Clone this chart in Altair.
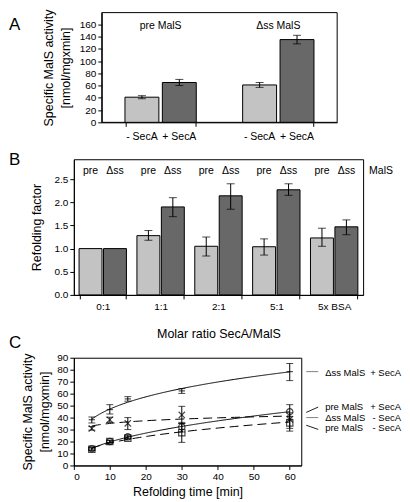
import altair as alt
import pandas as pd

FONT = "Liberation Sans"
LIGHT = "#c3c3c3"
DARK = "#686868"

# ---------------- Panel A data ----------------
a_groups = ["pre MalS", "pre MalS", "Δss MalS", "Δss MalS"]
a_secA = ["- SecA", "+ SecA", "- SecA", "+ SecA"]
a_values = [41, 65, 61, 135]
a_err_lo = [38.5, 60, 57, 128]
a_err_hi = [43.5, 70, 65, 142]
a_group_order = ["pre MalS", "Δss MalS"]
a_secA_order = ["- SecA", "+ SecA"]

# ---------------- Panel B data ----------------
b_ratios = ["0:1", "1:1", "2:1", "5:1", "5x BSA"]
b_forms = ["pre", "Δss"]
b_pre = [1.0, 1.28, 1.05, 1.04, 1.23]
b_pre_lo = [None, 1.18, 0.84, 0.86, 1.05]
b_pre_hi = [None, 1.39, 1.25, 1.21, 1.44]
b_dss = [1.0, 1.90, 2.14, 2.27, 1.47]
b_dss_lo = [None, 1.69, 1.85, 2.15, 1.30]
b_dss_hi = [None, 2.10, 2.40, 2.40, 1.62]

# ---------------- Panel C data ----------------
c_time = [5, 10, 15, 30, 60]
c_series = ["Δss MalS + SecA", "pre MalS + SecA", "Δss MalS - SecA", "pre MalS - SecA"]
c_dss_plus = [38.2, 46.7, 55.6, 62.3, 78.4]
c_dss_plus_lo = [35.5, 43.0, 53.7, 60.2, 70.9]
c_dss_plus_hi = [40.5, 50.8, 57.5, 64.2, 85.2]
c_pre_plus = [14.0, 20.0, 23.9, 32.2, 44.9]
c_pre_plus_lo = [13.0, 19.0, 22.5, 28.0, 38.5]
c_pre_plus_hi = [15.0, 21.0, 25.5, 36.0, 50.8]
c_dss_minus = [30.9, 38.2, 35.2, 42.2, 38.5]
c_dss_minus_lo = [29.5, 36.0, 30.0, 35.0, 31.0]
c_dss_minus_hi = [32.5, 40.3, 40.0, 49.4, 44.0]
c_pre_minus = [13.5, 20.1, 22.8, 27.4, 35.5]
c_pre_minus_lo = [12.5, 19.0, 22.0, 19.3, 28.7]
c_pre_minus_hi = [14.5, 21.0, 24.0, 35.0, 41.0]

leg_left = ["Δss MalS", "pre MalS", "Δss MalS", "pre MalS"]
leg_right = ["+ SecA", "+ SecA", "- SecA", "- SecA"]
leg_label_y = [77.5, 49.0, 39.5, 31.0]
leg_line_y1 = [78.4, 44.3, 40.0, 33.6]
leg_line_y2 = [78.4, 48.8, 40.0, 30.1]
leg_line_color = ["#808080", "#202020", "#808080", "#202020"]

LETTER_X = -65
axis_common = dict(labelColor="black", titleColor="black", domainColor="black",
                   tickColor="black", labelFontSize=10, titleFontSize=12.5,
                   titleFontWeight="normal", tickSize=4, grid=False,
                   labelOverlap=False, titleLineHeight=17)


def letter(txt, y):
    return alt.Chart(pd.DataFrame({"t": [txt]})).mark_text(
        align="left", baseline="middle", fontSize=17, font=FONT, color="black"
    ).encode(x=alt.value(LETTER_X), y=alt.value(y), text="t:N")


# ================= Panel A =================
WA, HA = 264, 110
A_LEFT = 28
A_BAR_W = 34
A_OFFS = [-18.75, 18.75]
A_COLS = [LIGHT, DARK]
dfA = pd.DataFrame({"group": a_groups, "secA": a_secA, "value": a_values,
                    "lo": a_err_lo, "hi": a_err_hi})
dfAg = pd.DataFrame({"group": a_group_order})

xA = alt.X("group:N", sort=a_group_order,
           scale=alt.Scale(range=[A_LEFT, WA], paddingInner=0.4, paddingOuter=0.2),
           axis=alt.Axis(title=None, labels=False, tickBand="extent", **axis_common))
yA = alt.Y("value:Q", scale=alt.Scale(domain=[0, 179], nice=False),
           axis=alt.Axis(values=list(range(0, 161, 20)), tickCount=40,
                         title=["Specific MalS activity", "[nmol/mgxmin]"],
                         offset=-A_LEFT, titlePadding=7, **axis_common))

layersA = [alt.Chart(pd.DataFrame({"t": [0]})).mark_rect(
    fillOpacity=0, stroke="black", strokeWidth=1
).encode(x=alt.value(A_LEFT), x2=alt.value(WA), y=alt.value(0), y2=alt.value(HA))]
for s, off, col in zip(a_secA_order, A_OFFS, A_COLS):
    base = alt.Chart(dfA).transform_filter(alt.datum.secA == s)
    layersA.append(base.mark_bar(width=A_BAR_W, xOffset=off, fill=col, stroke="black",
                                 strokeWidth=1).encode(x=xA, y=yA))
    layersA.append(base.mark_rule(xOffset=off, color="black").encode(x=xA, y="lo:Q", y2="hi:Q"))
    for fld in ["lo", "hi"]:
        layersA.append(base.mark_tick(orient="horizontal", size=8, thickness=1, xOffset=off,
                                      color="black").encode(x=xA, y=f"{fld}:Q"))
    layersA.append(base.mark_text(fontSize=10.5, font=FONT, color="black", baseline="middle",
                                  xOffset=off).encode(x=xA, y=alt.value(HA + 15), text="secA:N"))
layersA.append(alt.Chart(dfAg).mark_text(fontSize=10.5, font=FONT, color="black",
                                         baseline="middle").encode(
    x=xA, y=alt.value(13), text="group:N"))
layersA.append(letter("A", 12))
# invisible spacer text that reserves room below panel A
layersA.append(alt.Chart(pd.DataFrame({"t": ["."]})).mark_text(
    fontSize=10, opacity=0, baseline="middle").encode(
    x=alt.value(A_LEFT), y=alt.value(HA + 31), text="t:N"))

panelA = alt.layer(*layersA).properties(width=WA, height=HA,
                                        view=alt.ViewBackground(stroke=None))

# ================= Panel B =================
WB, HB = 290, 136
B_BAR_W = 23
B_OFFS = [-12.25, 12.25]
B_COLS = [LIGHT, DARK]
rows = []
for i, r in enumerate(b_ratios):
    rows.append({"ratio": r, "form": "pre", "value": b_pre[i], "lo": b_pre_lo[i], "hi": b_pre_hi[i]})
    rows.append({"ratio": r, "form": "Δss", "value": b_dss[i], "lo": b_dss_lo[i], "hi": b_dss_hi[i]})
dfB = pd.DataFrame(rows)
dfBe = dfB.dropna()

xB = alt.X("ratio:N", sort=b_ratios,
           scale=alt.Scale(paddingInner=0.19, paddingOuter=0.095),
           axis=alt.Axis(title="Molar ratio SecA/MalS", labelAngle=0, tickBand="extent",
                         labelPadding=3, titlePadding=16, **axis_common))
yB = alt.Y("value:Q", scale=alt.Scale(domain=[0, 2.93], nice=False),
           axis=alt.Axis(values=[0, 0.5, 1.0, 1.5, 2.0, 2.5], format=".1f", tickCount=40,
                         title="Refolding factor", titlePadding=11, **axis_common))

layersB = []
for f, off, col in zip(b_forms, B_OFFS, B_COLS):
    base = alt.Chart(dfB).transform_filter(alt.datum.form == f)
    basee = alt.Chart(dfBe).transform_filter(alt.datum.form == f)
    layersB.append(base.mark_bar(width=B_BAR_W, xOffset=off, fill=col, stroke="black",
                                 strokeWidth=1).encode(x=xB, y=yB))
    layersB.append(basee.mark_rule(xOffset=off, color="black").encode(x=xB, y="lo:Q", y2="hi:Q"))
    for fld in ["lo", "hi"]:
        layersB.append(basee.mark_tick(orient="horizontal", size=8, thickness=1, xOffset=off,
                                       color="black").encode(x=xB, y=f"{fld}:Q"))
    layersB.append(base.mark_text(fontSize=10.5, font=FONT, color="black", baseline="middle",
                                  xOffset=off).encode(x=xB, y=alt.value(12), text="form:N"))
layersB.append(alt.Chart(pd.DataFrame({"t": ["MalS"]})).mark_text(
    fontSize=10.5, font=FONT, color="black", baseline="middle", align="left"
).encode(x=alt.value(WB + 6), y=alt.value(12), text="t:N"))
layersB.append(letter("B", 1))

panelB = alt.layer(*layersB).properties(width=WB, height=HB)

# ================= Panel C =================
WC, HC = 228, 108
c_vals = [c_dss_plus, c_pre_plus, c_dss_minus, c_pre_minus]
c_los = [c_dss_plus_lo, c_pre_plus_lo, c_dss_minus_lo, c_pre_minus_lo]
c_his = [c_dss_plus_hi, c_pre_plus_hi, c_dss_minus_hi, c_pre_minus_hi]
rows = []
for s, vals, los, his in zip(c_series, c_vals, c_los, c_his):
    for t, v, lo, hi in zip(c_time, vals, los, his):
        rows.append({"series": s, "time": t, "value": v, "lo": lo, "hi": hi})
dfC = pd.DataFrame(rows)

xC = alt.X("time:Q", scale=alt.Scale(domain=[0, 63.2], nice=False),
           axis=alt.Axis(values=[0, 10, 20, 30, 40, 50, 60], tickCount=40,
                         title="Refolding time [min]", titlePadding=4, **axis_common))
yC = alt.Y("value:Q", scale=alt.Scale(domain=[0, 90], nice=False),
           axis=alt.Axis(values=list(range(0, 91, 10)), tickCount=40,
                         title=["Specific MalS activity", "[nmol/mgxmin]"],
                         titlePadding=5, **axis_common))
dashC = alt.StrokeDash("series:N", scale=alt.Scale(domain=c_series,
                       range=[[1, 0], [1, 0], [9, 5], [9, 5]]), legend=None)
widthC = alt.StrokeWidth("series:N", scale=alt.Scale(domain=c_series, range=[1, 1, 2.2, 2.2]),
                         legend=None)
shapeC = alt.Shape("series:N", scale=alt.Scale(domain=c_series,
                   range=["stroke", "circle", "M-1,-1L1,1M-1,1L1,-1", "square"]), legend=None)

trendC = alt.Chart(dfC).transform_regression(
    "time", "value", groupby=["series"], method="pow"
).mark_line(color="black").encode(x=xC, y=yC, strokeDash=dashC, strokeWidth=widthC)
errC = alt.Chart(dfC).mark_rule(color="black", strokeWidth=1).encode(x=xC, y="lo:Q", y2="hi:Q")
capC1 = alt.Chart(dfC).mark_tick(orient="horizontal", size=7, thickness=1, color="black").encode(
    x=xC, y="lo:Q")
capC2 = alt.Chart(dfC).mark_tick(orient="horizontal", size=7, thickness=1, color="black").encode(
    x=xC, y="hi:Q")
ptsC = alt.Chart(dfC).mark_point(filled=False, color="black", strokeWidth=1.2, size=40).encode(
    x=xC, y=yC, shape=shapeC)

dfL = pd.DataFrame({"left": leg_left, "right": leg_right, "ly": leg_label_y,
                    "y1": leg_line_y1, "y2": leg_line_y2, "c": leg_line_color})
legLines = alt.Chart(dfL).mark_rule(strokeWidth=1).encode(
    x=alt.value(WC + 5), x2=alt.value(WC + 17), y="y1:Q", y2="y2:Q",
    color=alt.Color("c:N", scale=None))
legL = alt.Chart(dfL).mark_text(align="left", baseline="middle", fontSize=9.5, font=FONT,
                                color="black").encode(
    x=alt.value(WC + 24), y="ly:Q", text="left:N")
legR = alt.Chart(dfL).mark_text(align="right", baseline="middle", fontSize=9.5, font=FONT,
                                color="black").encode(
    x=alt.value(WC + 100), y="ly:Q", text="right:N")

panelC = alt.layer(trendC, errC, capC1, capC2, ptsC, legLines, legL, legR,
                   letter("C", -15)).properties(width=WC, height=HC)

chart = alt.vconcat(panelA, panelB, panelC, spacing=-8).properties(
    padding=0
).configure(font=FONT).configure_view(stroke="black", strokeWidth=1)

chart.save("out.html", embed_options={"renderer": "svg", "actions": False})
